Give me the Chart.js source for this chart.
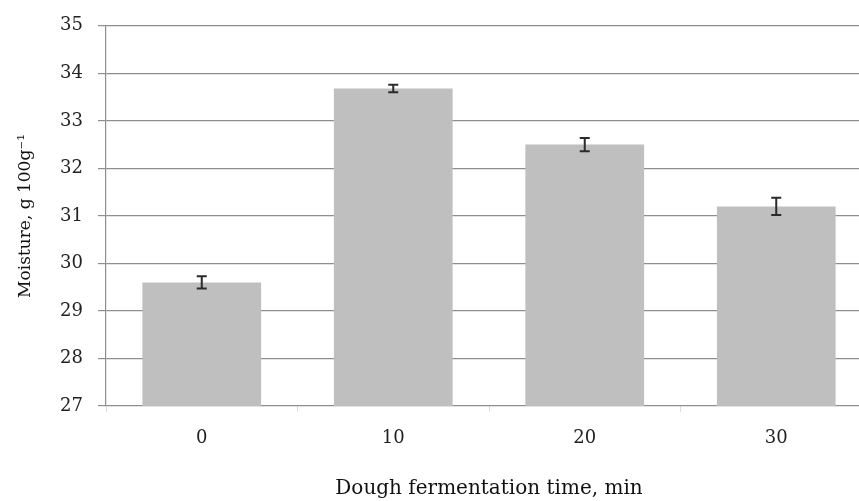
<!DOCTYPE html>
<html>
<head>
<meta charset="utf-8">
<script src="https://cdn.jsdelivr.net/npm/chart.js@4/dist/chart.umd.min.js"></script>
<style>
html,body{margin:0;padding:0;background:#fff;overflow:hidden;}
#wrap{width:872px;height:501px;}
</style>
</head>
<body>
<div id="wrap"><canvas id="c" width="872" height="501"></canvas></div>
<script>
const categories = ["0", "10", "20", "30"];
const moisture = [29.60, 33.68, 32.50, 31.20];
const moistureErr = [0.13, 0.08, 0.14, 0.18];
const yTicks = [27, 28, 29, 30, 31, 32, 33, 34, 35];

const errorBars = {
  id: 'errorBars',
  afterDatasetsDraw(chart) {
    const ctx = chart.ctx;
    const y = chart.scales.y;
    const meta = chart.getDatasetMeta(0);
    ctx.save();
    ctx.strokeStyle = '#2b2b2b';
    ctx.lineWidth = 2;
    meta.data.forEach((bar, i) => {
      const x = bar.x;
      const top = y.getPixelForValue(moisture[i] + moistureErr[i]);
      const bot = y.getPixelForValue(moisture[i] - moistureErr[i]);
      ctx.beginPath();
      ctx.moveTo(x, top); ctx.lineTo(x, bot);
      ctx.moveTo(x - 5, top); ctx.lineTo(x + 5, top);
      ctx.moveTo(x - 5, bot); ctx.lineTo(x + 5, bot);
      ctx.stroke();
    });
    ctx.restore();
  }
};

new Chart(document.getElementById('c'), {
  type: 'bar',
  data: {
    labels: categories,
    datasets: [{
      data: moisture,
      backgroundColor: '#bfbfbf',
      borderWidth: 0,
      categoryPercentage: 0.62,
      barPercentage: 1.0
    }]
  },
  options: {
    responsive: false,
    animation: false,
    events: [],
    layout: { padding: { top: 25, right: 0, bottom: 0, left: 0 } },
    plugins: { legend: { display: false }, tooltip: { enabled: false } },
    scales: {
      x: {
        offset: true,
        afterFit(scale) { scale.height = 95; },
        grid: { display: true, drawOnChartArea: false, offset: true, color: '#dcdcdc', tickLength: 6 },
        border: { display: false },
        ticks: { color: '#222', font: { family: 'DejaVu Serif', size: 18 }, padding: 16 },
        title: { display: true, text: 'Dough fermentation time, min', color: '#111',
                 font: { family: 'DejaVu Serif', size: 20 }, padding: { top: 0, bottom: 0 } }
      },
      y: {
        min: 27, max: 35,
        afterBuildTicks(scale) { scale.ticks = yTicks.map(v => ({ value: v })); },
        afterFit(scale) { scale.width = 106; },
        grid: { color: '#8e8e8e', lineWidth: 1.2, tickLength: 8 },
        border: { display: true, color: '#8e8e8e', width: 1.2 },
        ticks: { color: '#222', font: { family: 'DejaVu Serif', size: 18 }, padding: 15 },
        title: { display: true, text: 'Moisture, g 100g\u207B\u00B9', color: '#111',
                 font: { family: 'DejaVu Serif', size: 17 }, padding: { top: 15, bottom: 0 } }
      }
    }
  },
  plugins: [errorBars]
});
</script>
</body>
</html>
